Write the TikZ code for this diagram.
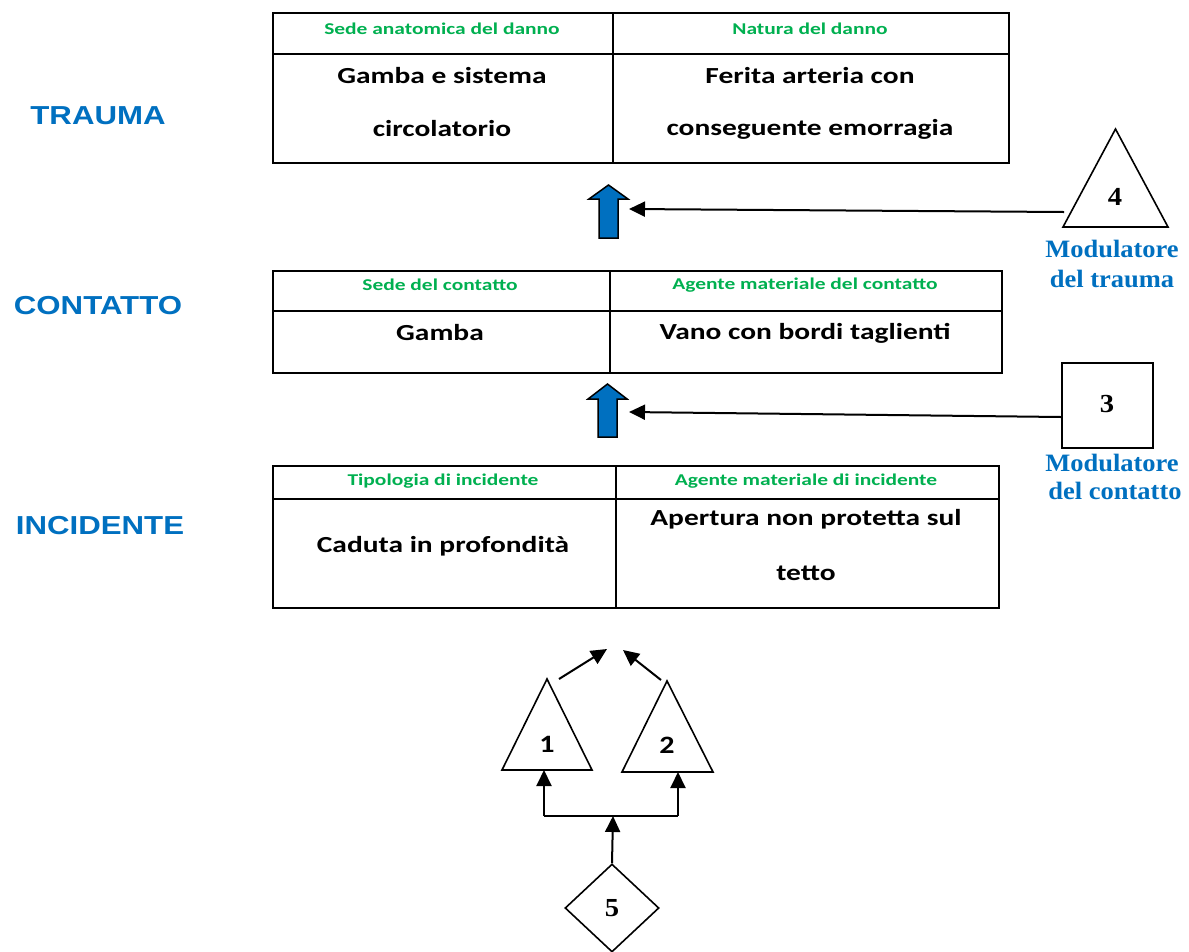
\documentclass[tikz,border=0pt]{standalone}
\usepackage{fontspec}
\setmainfont{Carlito}
\newfontfamily\arialf{Liberation Sans}
\newfontfamily\timesf{Liberation Serif}
\usetikzlibrary{arrows.meta,shapes.geometric}
\definecolor{hblue}{HTML}{0070C0}
\definecolor{hgreen}{HTML}{00B050}
\newcommand{\hdrtext}[1]{\scalebox{1.3}[1]{\fontsize{16.5}{19}\selectfont\bfseries #1}}
\newcommand{\bodytext}[1]{\scalebox{1.28}[1]{\fontsize{23}{27}\selectfont\bfseries #1}}
\newcommand{\sidetext}[1]{\scalebox{1.2}[1]{\arialf\fontsize{26}{30}\selectfont\bfseries #1}}
\newcommand{\modtext}[1]{\scalebox{1.06}[1]{\timesf\fontsize{25}{28}\selectfont\bfseries #1}}
\newcommand{\numtext}[1]{\scalebox{1.1}[1]{\timesf\fontsize{26}{30}\selectfont\bfseries #1}}
\newcommand{\numtextc}[1]{\scalebox{1.2}[1]{\fontsize{25}{29}\selectfont\bfseries #1}}
\tikzset{
  cell/.style={draw,line width=2pt,anchor=north west,inner sep=0pt},
  hdr/.style={text=hgreen,inner sep=0pt},
  bodytxt/.style={inner sep=0pt},
  sidelbl/.style={text=hblue,inner sep=0pt},
  modlbl/.style={text=hblue,inner sep=0pt},
  conn/.style={line width=2pt,-{Triangle[length=16pt 0,width=15pt 0]}},
  blockarrow/.style={fill=hblue,draw=black,line width=1.5pt,line join=miter},
  shapeline/.style={line width=1.6pt,line join=miter},
  numlbl/.style={inner sep=0pt}
}
\begin{document}
\begin{tikzpicture}[x=1pt,y=-1pt]
\useasboundingbox[fill=white] (0,0) rectangle (1189,951);

% ---------- Table 1 (TRAUMA) ----------
\node[cell,minimum width=340pt,minimum height=41pt] (t1h1) at (272,12) {};
\node[cell,minimum width=396pt,minimum height=41pt] (t1h2) at (612,12) {};
\node[cell,minimum width=340pt,minimum height=109pt] (t1b1) at (272,53) {};
\node[cell,minimum width=396pt,minimum height=109pt] (t1b2) at (612,53) {};
\node[hdr] (t1h1t) at (442,29) {\hdrtext{Sede anatomica del danno}};
\node[hdr] (t1h2t) at (810,29) {\hdrtext{Natura del danno}};
\node[bodytxt] (t1b1a) at (442,76) {\bodytext{Gamba e sistema}};
\node[bodytxt] (t1b1b) at (442,129) {\bodytext{circolatorio}};
\node[bodytxt] (t1b2a) at (810,76) {\bodytext{Ferita arteria con}};
\node[bodytxt] (t1b2b) at (810,129) {\bodytext{conseguente emorragia}};

% ---------- Table 2 (CONTATTO) ----------
\node[cell,minimum width=337pt,minimum height=40pt] (t2h1) at (272,270) {};
\node[cell,minimum width=392pt,minimum height=40pt] (t2h2) at (609,270) {};
\node[cell,minimum width=337pt,minimum height=62pt] (t2b1) at (272,310) {};
\node[cell,minimum width=392pt,minimum height=62pt] (t2b2) at (609,310) {};
\node[hdr] (t2h1t) at (440,285) {\hdrtext{Sede del contatto}};
\node[hdr] (t2h2t) at (805,285) {\hdrtext{Agente materiale del contatto}};
\node[bodytxt] (t2b1t) at (440,333) {\bodytext{Gamba}};
\node[bodytxt] (t2b2t) at (805,333) {\bodytext{Vano con bordi taglienti}};

% ---------- Table 3 (INCIDENTE) ----------
\node[cell,minimum width=343pt,minimum height=33pt] (t3h1) at (272,465) {};
\node[cell,minimum width=383pt,minimum height=33pt] (t3h2) at (615,465) {};
\node[cell,minimum width=343pt,minimum height=109pt] (t3b1) at (272,498) {};
\node[cell,minimum width=383pt,minimum height=109pt] (t3b2) at (615,498) {};
\node[hdr] (t3h1t) at (443,481) {\hdrtext{Tipologia di incidente}};
\node[hdr] (t3h2t) at (806,481) {\hdrtext{Agente materiale di incidente}};
\node[bodytxt] (t3b1t) at (443,546) {\bodytext{Caduta in profondità}};
\node[bodytxt] (t3b2a) at (806,519) {\bodytext{Apertura non protetta sul}};
\node[bodytxt] (t3b2b) at (806,573) {\bodytext{tetto}};

% ---------- Side labels ----------
\node[sidelbl] (ltrauma) at (98,116) {\sidetext{TRAUMA}};
\node[sidelbl] (lcontatto) at (98,306) {\sidetext{CONTATTO}};
\node[sidelbl] (lincidente) at (100,526) {\sidetext{INCIDENTE}};

% ---------- Block arrows ----------
\draw[blockarrow] (599,238) -- (599,199) -- (589,199) -- (608.5,185) -- (628,199) -- (618,199) -- (618,238) -- cycle;
\coordinate (ba1) at (629,209);
\draw[blockarrow] (598,437) -- (598,399) -- (588,399) -- (607.5,384) -- (627,399) -- (617,399) -- (617,437) -- cycle;
\coordinate (ba2) at (629,412);

% ---------- Modulator 4 (triangle) ----------
\coordinate (m4a) at (1115.5,129);
\coordinate (m4l) at (1063,227);
\coordinate (m4r) at (1168,227);
\draw[shapeline] (m4a) -- (m4l) -- (m4r) -- cycle;
\node[numlbl] (m4n) at (1115,197) {\numtext{4}};
\coordinate (m4w) at (1064,212);
\draw[conn] (m4w) -- (ba1);
\node[modlbl] (m4t1) at (1112,249) {\modtext{Modulatore}};
\node[modlbl] (m4t2) at (1112,279) {\modtext{del trauma}};

% ---------- Modulator 3 (square) ----------
\node[draw,line width=1.6pt,minimum width=91pt,minimum height=85pt,inner sep=0pt,anchor=north west] (m3) at (1061,362) {};
\node[numlbl] (m3n) at (1107,404) {\numtext{3}};
\coordinate (m3w) at (1061,417);
\draw[conn] (m3w) -- (ba2);
\node[modlbl] (m3t1) at (1112,463) {\modtext{Modulatore}};
\node[modlbl] (m3t2) at (1115,491) {\modtext{del contatto}};

% ---------- Bottom: triangles 1, 2 and diamond 5 ----------
\coordinate (t1ap) at (547,679);
\coordinate (t1l) at (502,770);
\coordinate (t1r) at (592,770);
\draw[shapeline] (t1ap) -- (t1l) -- (t1r) -- cycle;
\node[numlbl] (n1) at (547,744) {\numtextc{1}};

\coordinate (t2ap) at (667,681);
\coordinate (t2l) at (622,772);
\coordinate (t2r) at (713,772);
\draw[shapeline] (t2ap) -- (t2l) -- (t2r) -- cycle;
\node[numlbl] (n2) at (667,745) {\numtextc{2}};

\coordinate (a1s) at (559,679);
\coordinate (a1e) at (607,649);
\coordinate (a2s) at (661,680);
\coordinate (a2e) at (623,650);
\draw[conn] (a1s) -- (a1e);
\draw[conn] (a2s) -- (a2e);

\node[draw,shape=diamond,line width=1.6pt,inner sep=0pt,minimum width=94pt,minimum height=88pt] (d5) at (612,908) {};
\node[numlbl] (n5) at (612,908) {\numtext{5}};

\coordinate (jl) at (544,816);
\coordinate (jr) at (678,816);
\coordinate (jm) at (613,816);
\draw[line width=2pt] (jl) -- (jr);
\draw[conn] (jl) -- (544,770);
\draw[conn] (jr) -- (678,772);
\draw[conn] (d5.north) -- (jm);
\end{tikzpicture}
\end{document}
